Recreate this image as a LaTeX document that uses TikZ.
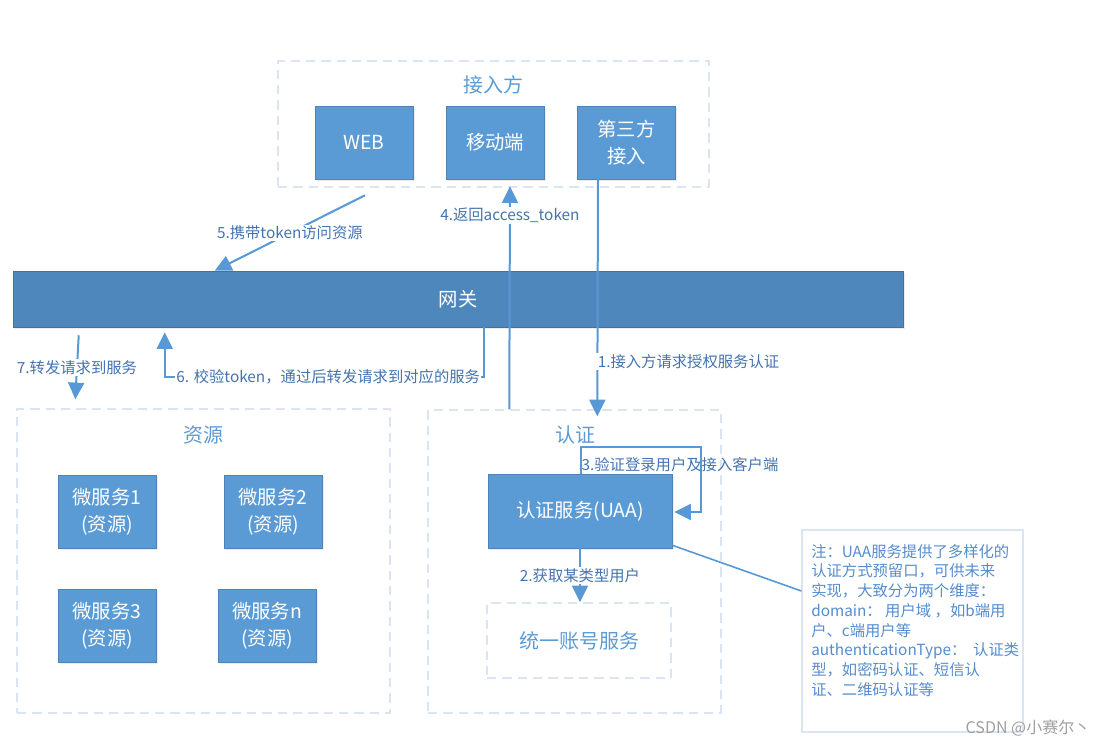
\documentclass[tikz,border=0pt]{standalone}
\usepackage{fontspec}
\setmainfont{Noto Sans CJK SC}
\usepackage{tikz}
\usetikzlibrary{arrows.meta,calc,shadows}
\definecolor{boxblue}{RGB}{91,155,213}
\definecolor{barblue}{RGB}{78,135,188}
\definecolor{lineblue}{RGB}{88,152,212}
\definecolor{dashblue}{RGB}{218,228,243}
\definecolor{textblue}{RGB}{68,116,175}
\definecolor{titleblue}{RGB}{91,155,213}
\definecolor{noteblue}{RGB}{84,140,206}

\tikzset{
  svcbox/.style={fill=boxblue, draw=boxblue!85!black, line width=0.4pt, text=white, align=center,
    inner sep=0pt, minimum width=73.5pt, minimum height=54.75pt, font=\fontsize{14.5}{20}\selectfont,
    drop shadow={opacity=0.15, shadow xshift=1.2pt, shadow yshift=-1.5pt}},
  groupbox/.style={draw=dashblue, line width=1.1pt, dash pattern=on 7pt off 4.5pt, inner sep=0pt},
  grouptitle/.style={text=titleblue, font=\fontsize{15}{18}\selectfont, inner sep=1pt},
  flow/.style={draw=lineblue, line width=1.5pt},
  flowtip/.style={-{Triangle[length=12.5pt,width=12pt]}},
  steplabel/.style={fill=white, text=textblue, font=\fontsize{11.5}{14}\selectfont, inner sep=1pt},
}

\begin{document}
\begin{tikzpicture}[x=0.75pt,y=0.75pt,yscale=-1,xscale=1]
\useasboundingbox (0,0) rectangle (1107,747);

% Groups
\node (access) [groupbox, minimum width=323.25pt, minimum height=94.5pt] at (493.5,124) {};
\node (res) [groupbox, minimum width=279.75pt, minimum height=228pt] at (203.5,561) {};
\node (auth) [groupbox, minimum width=219.75pt, minimum height=227.25pt] at (574.5,561.5) {};

% Group titles
\node (accesstitle) [grouptitle] at (493,85) {接入方};
\node (restitle) [grouptitle] at (203,435) {资源};
\node (authtitle) [grouptitle] at (575,435) {认证};

% Clients
\node (web) [svcbox] at (364,142.5) {WEB};
\node (mobile) [svcbox] at (495,142.5) {移动端};
\node (third) [svcbox] at (626.5,142.5) {第三方\\接入};

% Gateway
\node (gw) [svcbox, fill=barblue, draw=barblue!85!black, minimum width=667.5pt, minimum height=42pt] at (458,299) {网关};

% Micro services
\node (ms1) [svcbox] at (107,511.5) {微服务1\\(资源)};
\node (ms2) [svcbox] at (273,511.5) {微服务2\\(资源)};
\node (ms3) [svcbox] at (107,625.5) {微服务3\\(资源)};
\node (msn) [svcbox] at (267,625.5) {微服务n\\(资源)};

% UAA and accounts
\node (uaa) [svcbox, minimum width=138pt, minimum height=55.5pt] at (580,511) {认证服务(UAA)};
\node (account) [groupbox, text=titleblue, font=\fontsize{15}{18}\selectfont, minimum width=138pt, minimum height=56.25pt] at (579,640.5) {统一账号服务};

% Note
\node (note) [draw=dashblue, line width=0.9pt, minimum width=165.75pt, minimum height=151.5pt] at (912.5,631) {};
\node (notetext) [anchor=north west, align=left, text=noteblue, font=\fontsize{11.5}{14.8}\selectfont, inner sep=0pt] at (811,544)
  {注：UAA服务提供了多样化的\\认证方式预留口，可供未来\\实现，大致分为两个维度：\\domain： 用户域 ，如b端用\\户、c端用户等\\authenticationType：\ \ 认证类\\型，如密码认证、短信认\\证、二维码认证等};

% 1
\draw [flow,flowtip] ($(third.south)+(-28.5,0)$) -- ($(auth.north west)+(170,7)$)
  node [steplabel, pos=0.77, anchor=west, xshift=-1.5pt] (lbl1) {1.接入方请求授权服务认证};
% 2
\draw [flow,flowtip] (uaa.south) -- (uaa.south |- account.north)
  node [steplabel, midway] (lbl2) {2.获取某类型用户};
% 3
\draw [flow,flowtip] ($(uaa.north)+(1,0)$) |- ($(uaa.north east)+(29,-27)$) |- ($(uaa.east)+(2,1)$);
\node (lbl3) [steplabel, fill=none, anchor=west] at ($(uaa.north)+(0,-9)$) {3.验证登录用户及接入客户端};
% 4
\draw [flow,flowtip] ($(auth.north west)+(82,0)$) -- ($(mobile.south)+(15,7)$)
  node [steplabel, pos=0.87] (lbl4) {4.返回access\_token};
% 5
\draw [flow,flowtip] ($(web.south)+(1,16)$) -- ($(gw.north west)+(202,0)$)
  node [steplabel, midway] (lbl5) {5.携带token访问资源};
% 6
\draw [flow,flowtip] ($(gw.south west)+(471,0)$) -- ($(gw.south west)+(471,50)$)
  -- node [steplabel, xshift=3pt] (lbl6) {6. 校验token，通过后转发请求到对应的服务} ($(gw.south west)+(152,50)$)
  -- ($(gw.south west)+(152,5)$);
% 7
\draw [flow,flowtip] ($(gw.south west)+(66,8)$) -- ($(res.north west)+(59,-9)$)
  node [steplabel, midway] (lbl7) {7.转发请求到服务};

% note link
\draw [flow, line width=1.2pt] ($(uaa.south east)+(0,-3)$) -- ($(note.west)+(0,-40)$);

% Watermark
\node (mark) [text=gray!75, font=\fontsize{12}{14}\selectfont] at (1028,728) {CSDN @小赛尔丶};

\end{tikzpicture}
\end{document}
